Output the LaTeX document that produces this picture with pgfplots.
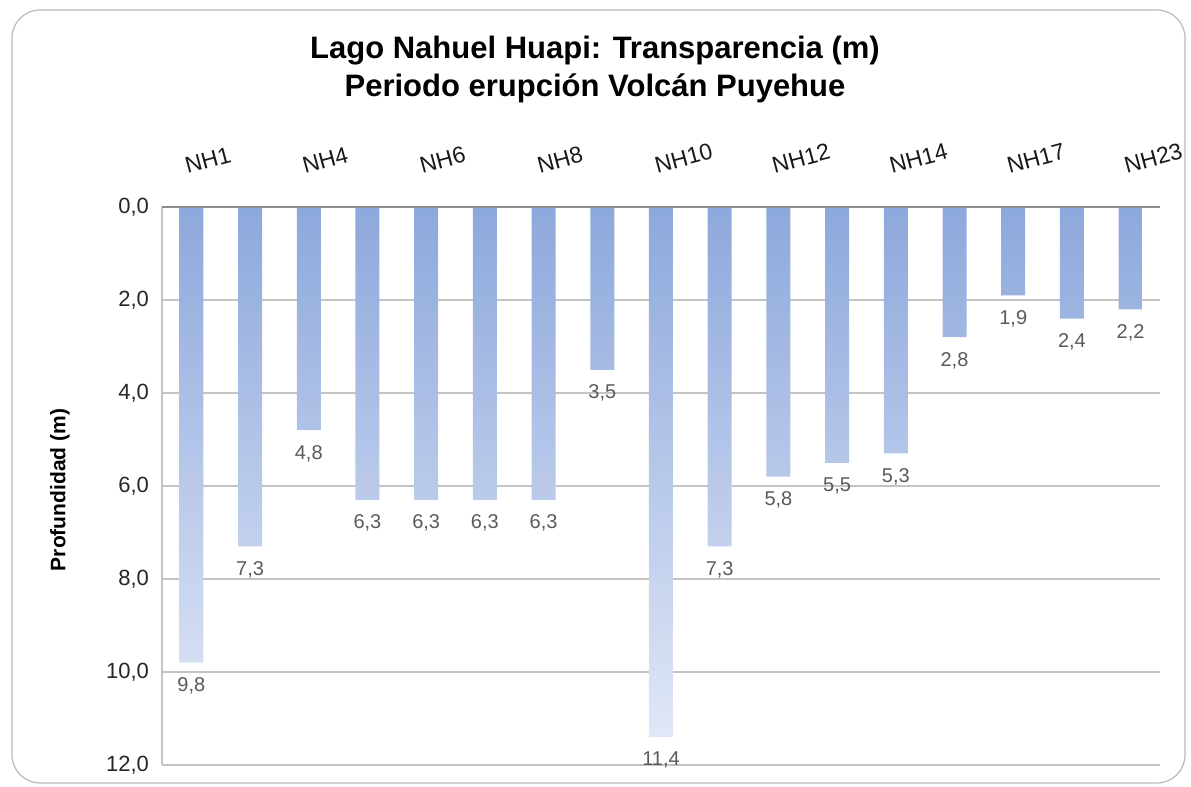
\documentclass[border=0pt]{standalone}
\usepackage{pgfplots}
\pgfplotsset{compat=1.18}
\usepackage{fontspec}
\setmainfont{Liberation Sans}
\definecolor{bartop}{RGB}{141,168,220}
\definecolor{barbot}{RGB}{224,231,246}
\definecolor{gridc}{RGB}{196,196,196}
\definecolor{zeroc}{RGB}{140,140,140}
\definecolor{labc}{RGB}{90,90,90}

\begin{document}
\begin{tikzpicture}
\useasboundingbox (-81pt,-11pt) rectangle (514.5pt,382.5pt);
\draw[rounded corners=14pt, draw=gray!55, line width=0.6pt] (-75pt,-9pt) rectangle (511.5pt,377.5pt);
\begin{axis}[
  at={(0,0)}, anchor=south west,
  scale only axis, width=499pt, height=279pt,
  xmin=-0.5, xmax=16.5, ymin=0, ymax=12, y dir=reverse,
  ybar, bar width=12pt,
  axis line style={draw=none},
  major tick length=0pt,
  ymajorgrids, grid style={gridc, line width=0.6pt},
  ytick={0,2,...,12},
  xtick={0,2,...,16},
  xticklabels={NH1,NH4,NH6,NH8,NH10,NH12,NH14,NH17,NH23},
  xticklabel pos=upper,
  xticklabel style={rotate=15, anchor=south west, xshift=-1pt, yshift=13pt,
    font=\fontsize{11.5}{13}\selectfont, text=black!90},
  yticklabel style={font=\fontsize{11}{13}\selectfont, text=black!85, xshift=-3pt},
  /pgf/number format/.cd, fixed, fixed zerofill, precision=1, use comma, assume math mode=true,
  /pgfplots/.cd,
  nodes near coords,
  every node near coord/.append style={anchor=north, yshift=-4pt,
    font=\fontsize{10}{12}\selectfont, text=labc},
  clip=false,
]
\addplot[draw=none, top color=bartop, bottom color=barbot] coordinates {
  (0,9.8) (1,7.3) (2,4.8) (3,6.3) (4,6.3) (5,6.3) (6,6.3) (7,3.5) (8,11.4)
  (9,7.3) (10,5.8) (11,5.5) (12,5.3) (13,2.8) (14,1.9) (15,2.4) (16,2.2)};
\draw[gridc, line width=0.6pt] (axis cs:-0.5,0) -- (axis cs:-0.5,12);
\draw[zeroc, line width=0.8pt] (axis cs:-0.5,0) -- (axis cs:16.5,0);
\end{axis}
\node[align=center, font=\bfseries\fontsize{15.5}{19}\selectfont] at (216.5pt,348pt)
  {Lago Nahuel Huapi: Transparencia (m)\\Periodo erupción Volcán Puyehue};
\node[rotate=90, font=\bfseries\fontsize{10.5}{12}\selectfont] at (-51pt,137.5pt) {Profundidad (m)};
\end{tikzpicture}
\end{document}
